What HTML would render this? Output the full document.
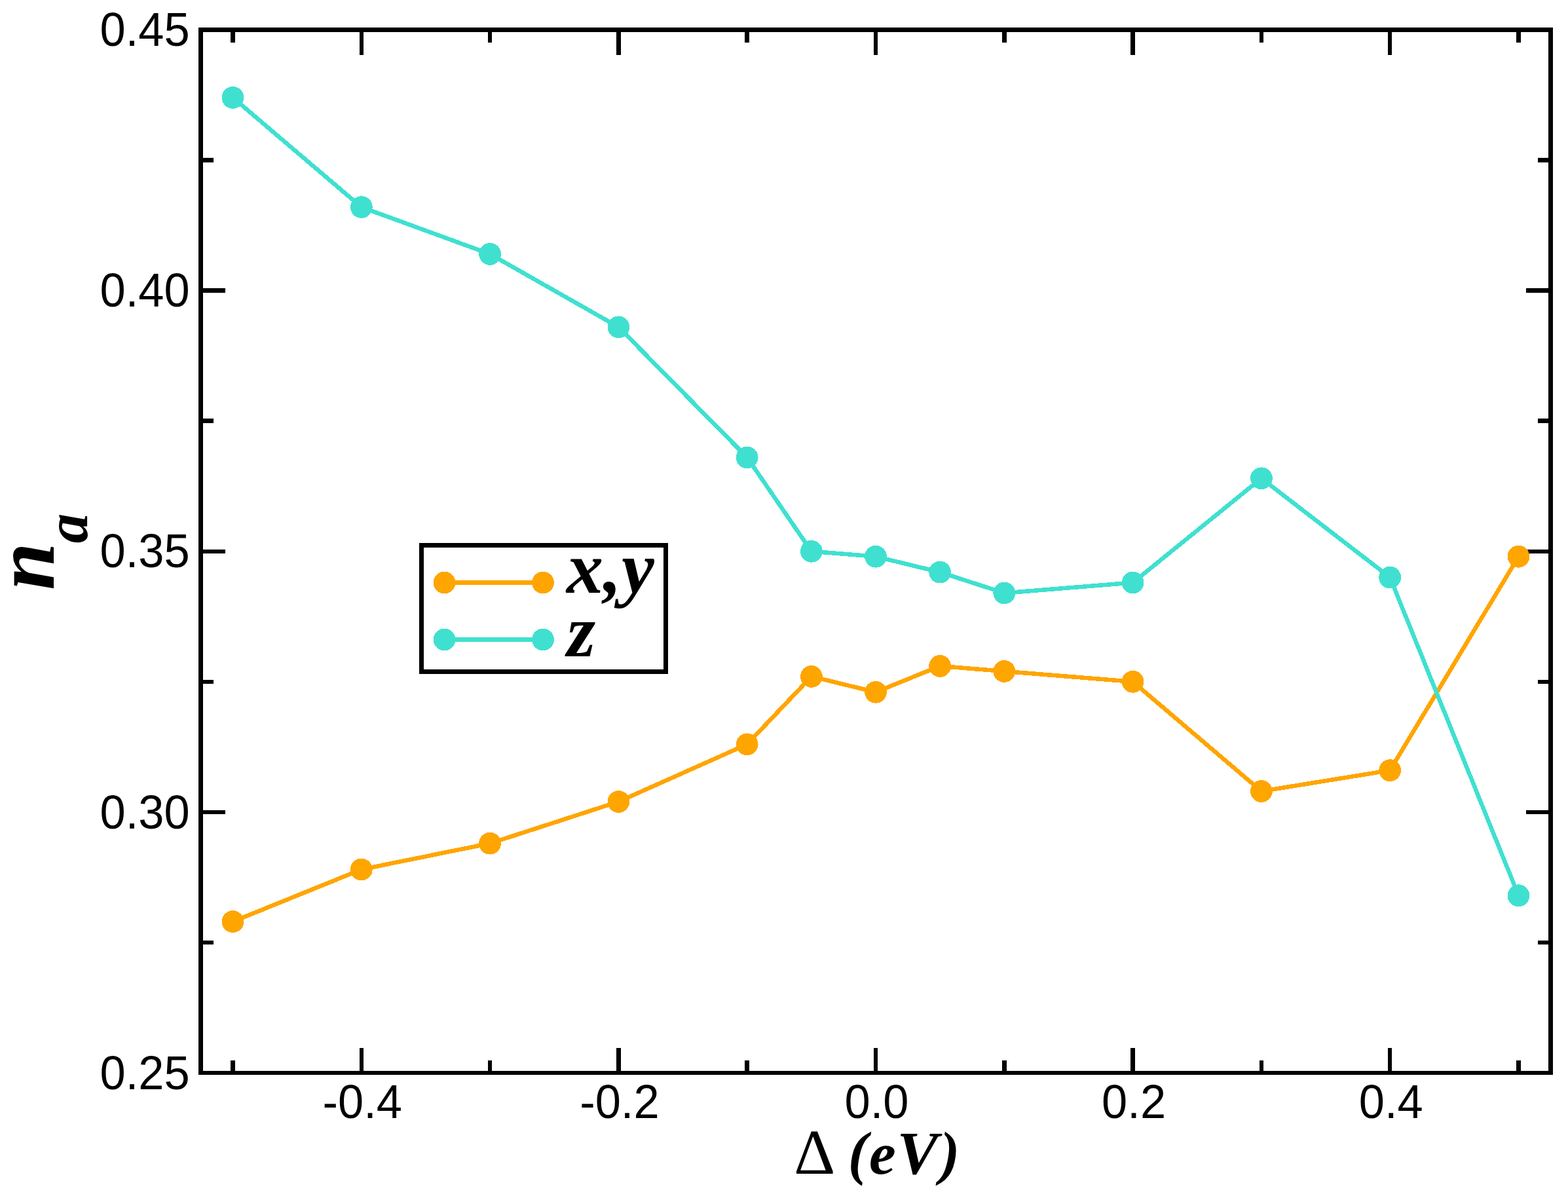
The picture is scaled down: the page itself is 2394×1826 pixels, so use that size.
<!DOCTYPE html>
<html lang="en">
<head>
<meta charset="utf-8">
<title>n_a vs Δ (eV)</title>
<style>
html,body{margin:0;padding:0;background:#fff;}
body{width:2394px;height:1826px;}
svg{display:block;}
</style>
</head>
<body>
<svg width="2394" height="1826" viewBox="0 0 2394 1826">
<rect x="0" y="0" width="2394" height="1826" fill="#fff"/>
<g stroke="#000" stroke-width="6.5" fill="none" shape-rendering="crispEdges">
<line x1="355.50" y1="1638.0" x2="355.50" y2="1618.6"/>
<line x1="355.50" y1="45.5" x2="355.50" y2="64.9"/>
<line x1="551.80" y1="1638.0" x2="551.80" y2="1599.7"/>
<line x1="551.80" y1="45.5" x2="551.80" y2="83.8"/>
<line x1="748.10" y1="1638.0" x2="748.10" y2="1618.6"/>
<line x1="748.10" y1="45.5" x2="748.10" y2="64.9"/>
<line x1="944.40" y1="1638.0" x2="944.40" y2="1599.7"/>
<line x1="944.40" y1="45.5" x2="944.40" y2="83.8"/>
<line x1="1140.70" y1="1638.0" x2="1140.70" y2="1618.6"/>
<line x1="1140.70" y1="45.5" x2="1140.70" y2="64.9"/>
<line x1="1337.00" y1="1638.0" x2="1337.00" y2="1599.7"/>
<line x1="1337.00" y1="45.5" x2="1337.00" y2="83.8"/>
<line x1="1533.30" y1="1638.0" x2="1533.30" y2="1618.6"/>
<line x1="1533.30" y1="45.5" x2="1533.30" y2="64.9"/>
<line x1="1729.60" y1="1638.0" x2="1729.60" y2="1599.7"/>
<line x1="1729.60" y1="45.5" x2="1729.60" y2="83.8"/>
<line x1="1925.90" y1="1638.0" x2="1925.90" y2="1618.6"/>
<line x1="1925.90" y1="45.5" x2="1925.90" y2="64.9"/>
<line x1="2122.20" y1="1638.0" x2="2122.20" y2="1599.7"/>
<line x1="2122.20" y1="45.5" x2="2122.20" y2="83.8"/>
<line x1="2318.50" y1="1638.0" x2="2318.50" y2="1618.6"/>
<line x1="2318.50" y1="45.5" x2="2318.50" y2="64.9"/>
<line x1="306.5" y1="1638.00" x2="344.0" y2="1638.00"/>
<line x1="2367.5" y1="1638.00" x2="2330.0" y2="1638.00"/>
<line x1="306.5" y1="1438.94" x2="326.0" y2="1438.94"/>
<line x1="2367.5" y1="1438.94" x2="2348.0" y2="1438.94"/>
<line x1="306.5" y1="1239.88" x2="344.0" y2="1239.88"/>
<line x1="2367.5" y1="1239.88" x2="2330.0" y2="1239.88"/>
<line x1="306.5" y1="1040.81" x2="326.0" y2="1040.81"/>
<line x1="2367.5" y1="1040.81" x2="2348.0" y2="1040.81"/>
<line x1="306.5" y1="841.75" x2="344.0" y2="841.75"/>
<line x1="2367.5" y1="841.75" x2="2330.0" y2="841.75"/>
<line x1="306.5" y1="642.69" x2="326.0" y2="642.69"/>
<line x1="2367.5" y1="642.69" x2="2348.0" y2="642.69"/>
<line x1="306.5" y1="443.62" x2="344.0" y2="443.62"/>
<line x1="2367.5" y1="443.62" x2="2330.0" y2="443.62"/>
<line x1="306.5" y1="244.56" x2="326.0" y2="244.56"/>
<line x1="2367.5" y1="244.56" x2="2348.0" y2="244.56"/>
<line x1="306.5" y1="45.50" x2="344.0" y2="45.50"/>
<line x1="2367.5" y1="45.50" x2="2330.0" y2="45.50"/>
</g>
<g shape-rendering="crispEdges">
<polyline points="355.50,1407.09 551.80,1327.46 748.10,1287.65 944.40,1223.95 1140.70,1136.36 1238.85,1032.85 1337.00,1056.74 1435.15,1016.92 1533.30,1024.89 1729.60,1040.81 1925.90,1208.03 2122.20,1176.17 2318.50,849.71" fill="none" stroke="#ffa500" stroke-width="6.5" stroke-linejoin="round"/>
<circle cx="355.50" cy="1407.09" r="16.9" fill="#ffa500"/>
<circle cx="551.80" cy="1327.46" r="16.9" fill="#ffa500"/>
<circle cx="748.10" cy="1287.65" r="16.9" fill="#ffa500"/>
<circle cx="944.40" cy="1223.95" r="16.9" fill="#ffa500"/>
<circle cx="1140.70" cy="1136.36" r="16.9" fill="#ffa500"/>
<circle cx="1238.85" cy="1032.85" r="16.9" fill="#ffa500"/>
<circle cx="1337.00" cy="1056.74" r="16.9" fill="#ffa500"/>
<circle cx="1435.15" cy="1016.92" r="16.9" fill="#ffa500"/>
<circle cx="1533.30" cy="1024.89" r="16.9" fill="#ffa500"/>
<circle cx="1729.60" cy="1040.81" r="16.9" fill="#ffa500"/>
<circle cx="1925.90" cy="1208.03" r="16.9" fill="#ffa500"/>
<circle cx="2122.20" cy="1176.17" r="16.9" fill="#ffa500"/>
<circle cx="2318.50" cy="849.71" r="16.9" fill="#ffa500"/>
</g>
<g shape-rendering="crispEdges">
<polyline points="355.50,149.01 551.80,316.23 748.10,387.89 944.40,499.36 1140.70,698.43 1238.85,841.75 1337.00,849.71 1435.15,873.60 1533.30,905.45 1729.60,889.53 1925.90,730.28 2122.20,881.56 2318.50,1367.28" fill="none" stroke="#40e0d0" stroke-width="6.5" stroke-linejoin="round"/>
<circle cx="355.50" cy="149.01" r="16.9" fill="#40e0d0"/>
<circle cx="551.80" cy="316.23" r="16.9" fill="#40e0d0"/>
<circle cx="748.10" cy="387.89" r="16.9" fill="#40e0d0"/>
<circle cx="944.40" cy="499.36" r="16.9" fill="#40e0d0"/>
<circle cx="1140.70" cy="698.43" r="16.9" fill="#40e0d0"/>
<circle cx="1238.85" cy="841.75" r="16.9" fill="#40e0d0"/>
<circle cx="1337.00" cy="849.71" r="16.9" fill="#40e0d0"/>
<circle cx="1435.15" cy="873.60" r="16.9" fill="#40e0d0"/>
<circle cx="1533.30" cy="905.45" r="16.9" fill="#40e0d0"/>
<circle cx="1729.60" cy="889.53" r="16.9" fill="#40e0d0"/>
<circle cx="1925.90" cy="730.28" r="16.9" fill="#40e0d0"/>
<circle cx="2122.20" cy="881.56" r="16.9" fill="#40e0d0"/>
<circle cx="2318.50" cy="1367.28" r="16.9" fill="#40e0d0"/>
</g>
<rect x="306.5" y="45.5" width="2061.0" height="1592.5" fill="none" stroke="#000" stroke-width="6.5" shape-rendering="crispEdges"/>
<rect x="643.5" y="832.5" width="373.0" height="193.0" fill="#fff" stroke="#000" stroke-width="6.5" shape-rendering="crispEdges"/>
<g shape-rendering="crispEdges"><line x1="678.5" y1="889.5" x2="829" y2="889.5" stroke="#ffa500" stroke-width="6.5"/><circle cx="678.5" cy="889.5" r="16.9" fill="#ffa500"/><circle cx="829" cy="889.5" r="16.9" fill="#ffa500"/></g>
<g shape-rendering="crispEdges"><line x1="678.5" y1="976.5" x2="829" y2="976.5" stroke="#40e0d0" stroke-width="6.5"/><circle cx="678.5" cy="976.5" r="16.9" fill="#40e0d0"/><circle cx="829" cy="976.5" r="16.9" fill="#40e0d0"/></g>
<text transform="translate(289.70 1662.70) scale(1 1.0308)" x="0" y="0" text-anchor="end" font-family="'Liberation Sans', Arial, Helvetica, sans-serif" font-size="70.5" fill="#000">0.25</text>
<text transform="translate(289.70 1264.58) scale(1 1.0308)" x="0" y="0" text-anchor="end" font-family="'Liberation Sans', Arial, Helvetica, sans-serif" font-size="70.5" fill="#000">0.30</text>
<text transform="translate(289.70 866.45) scale(1 1.0308)" x="0" y="0" text-anchor="end" font-family="'Liberation Sans', Arial, Helvetica, sans-serif" font-size="70.5" fill="#000">0.35</text>
<text transform="translate(289.70 468.32) scale(1 1.0308)" x="0" y="0" text-anchor="end" font-family="'Liberation Sans', Arial, Helvetica, sans-serif" font-size="70.5" fill="#000">0.40</text>
<text transform="translate(289.70 70.20) scale(1 1.0308)" x="0" y="0" text-anchor="end" font-family="'Liberation Sans', Arial, Helvetica, sans-serif" font-size="70.5" fill="#000">0.45</text>
<text transform="translate(553.30 1707.00) scale(1 1.0308)" x="0" y="0" text-anchor="middle" font-family="'Liberation Sans', Arial, Helvetica, sans-serif" font-size="70.5" fill="#000">-0.4</text>
<text transform="translate(945.90 1707.00) scale(1 1.0308)" x="0" y="0" text-anchor="middle" font-family="'Liberation Sans', Arial, Helvetica, sans-serif" font-size="70.5" fill="#000">-0.2</text>
<text transform="translate(1338.50 1707.00) scale(1 1.0308)" x="0" y="0" text-anchor="middle" font-family="'Liberation Sans', Arial, Helvetica, sans-serif" font-size="70.5" fill="#000">0.0</text>
<text transform="translate(1731.10 1707.00) scale(1 1.0308)" x="0" y="0" text-anchor="middle" font-family="'Liberation Sans', Arial, Helvetica, sans-serif" font-size="70.5" fill="#000">0.2</text>
<text transform="translate(2123.70 1707.00) scale(1 1.0308)" x="0" y="0" text-anchor="middle" font-family="'Liberation Sans', Arial, Helvetica, sans-serif" font-size="70.5" fill="#000">0.4</text>
<text font-family="'Liberation Serif', 'Times New Roman', Times, serif" font-weight="bold" font-style="italic" fill="#000"><tspan x="1212.3" y="1792" font-size="98" font-weight="normal" font-style="normal">Δ</tspan> <tspan x="1294.7" y="1790.65" font-size="90.4">(</tspan><tspan x="1326.95" y="1792.3" font-size="91.8">e</tspan><tspan x="1369.6" y="1791.9" font-size="94">V</tspan><tspan x="1435.2" y="1790.65" font-size="90.4">)</tspan></text>
<text transform="translate(82 901) rotate(-90)" font-family="'Liberation Serif', 'Times New Roman', Times, serif" font-weight="bold" font-style="italic" fill="#000"><tspan x="0" y="0" font-size="130.6">n</tspan><tspan x="71.7" y="51" font-size="91">a</tspan></text>
<text x="865" y="905" font-family="'Liberation Serif', 'Times New Roman', Times, serif" font-weight="bold" font-style="italic" font-size="112" fill="#000">x,y</text>
<text x="865.5" y="1001.5" font-family="'Liberation Serif', 'Times New Roman', Times, serif" font-weight="bold" font-style="italic" font-size="112" fill="#000">z</text>
</svg>
</body>
</html>
